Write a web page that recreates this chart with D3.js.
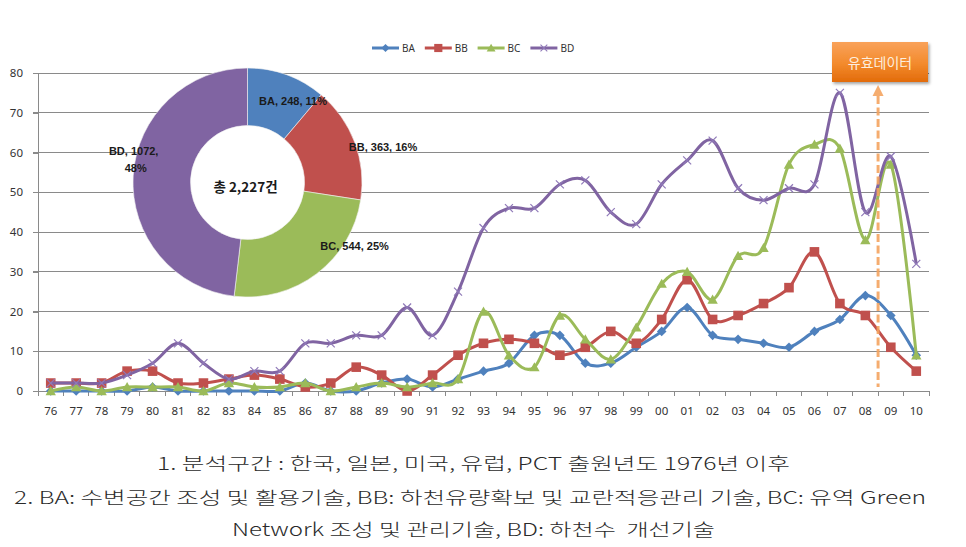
<!DOCTYPE html>
<html><head><meta charset="utf-8">
<script src="https://cdn.jsdelivr.net/npm/d3@7"></script>
<style>body{margin:0;background:#fff}svg{display:block}</style>
</head><body>
<svg id="c" width="966" height="547"></svg>
<script>
// ---------- data ----------
const years = ["76","77","78","79","80","81","82","83","84","85","86","87","88","89","90","91","92","93","94","95","96","97","98","99","00","01","02","03","04","05","06","07","08","09","10"];
const BA = [0,0,0,0,1,0,0,0,0,0,2,0,0,2,3,1,3,5,7,14,14,7,7,11,15,21,14,13,12,11,15,18,24,19,9];
const BB = [2,2,2,5,5,2,2,3,4,3,1,2,6,4,0,4,9,12,13,12,9,11,15,12,18,28,18,19,22,26,35,22,19,11,5];
const BC = [0,1,0,1,1,1,0,2,1,1,2,0,1,2,1,2,3,20,9,6,19,13,8,16,27,30,23,34,36,57,62,61,38,57,9];
const BD = [2,2,2,4,7,12,7,3,5,5,12,12,14,14,21,14,25,41,46,46,52,53,45,42,52,58,63,51,48,51,52,75,45,59,32];
const seriesNames = ["BA","BB","BC","BD"];
const yTicks = [0,10,20,30,40,50,60,70,80];
const pieNames = ["BA","BB","BC","BD"];
const pieValues = [248,363,544,1072];
const piePct = ["11%","16%","25%","48%"];
const pieTotal = "총 2,227건";
const calloutText = "유효데이터";
const calloutYear = "08";
const notes = [
  "1. 분석구간 : 한국, 일본, 미국, 유럽, PCT 출원년도 1976년 이후",
  "2. BA: 수변공간 조성 및 활용기술, BB: 하천유량확보 및 교란적응관리 기술, BC: 유역 Green",
  "Network 조성 및 관리기술, BD: 하천수  개선기술"
];

// ---------- setup ----------
const svg = d3.select("#c");
const colors = {BA:"#4F81BD", BB:"#C0504D", BC:"#9BBB59", BD:"#8064A2"};
const data = {BA, BB, BC, BD};
const L = 38, R = 929, T = 73, B = 391;
const x = d3.scaleBand().domain(years).range([L, R]);
const y = d3.scaleLinear().domain([0, 80]).range([B, T]);
const bw = x.bandwidth();
const cx = d => x(d) + bw / 2;

// defs
const defs = svg.append("defs");
const g1 = defs.append("linearGradient").attr("id","og").attr("x1",0).attr("y1",0).attr("x2",0).attr("y2",1);
g1.append("stop").attr("offset","0%").attr("stop-color","#f9a25a");
g1.append("stop").attr("offset","55%").attr("stop-color","#f38a2c");
g1.append("stop").attr("offset","100%").attr("stop-color","#e26b0a");
const sh = defs.append("filter").attr("id","sh").attr("x","-20%").attr("y","-20%").attr("width","150%").attr("height","160%");
sh.append("feDropShadow").attr("dx",1.5).attr("dy",2).attr("stdDeviation",1.6).attr("flood-color","#000").attr("flood-opacity",0.35);

// gridlines
svg.append("g").selectAll("line").data(yTicks.filter(t => t > 0)).join("line")
  .attr("x1", L - 5).attr("x2", R).attr("y1", d => y(d)).attr("y2", d => y(d))
  .attr("stroke", "#8a8a8a").attr("stroke-width", 1).attr("shape-rendering","crispEdges");

// y axis
const yAxis = svg.append("g").attr("transform", `translate(${L},0)`)
  .call(d3.axisLeft(y).tickValues(yTicks).tickSize(5).tickPadding(10));
yAxis.select(".domain").attr("stroke","#8a8a8a").attr("shape-rendering","crispEdges");
yAxis.selectAll(".tick line").attr("stroke","#8a8a8a").attr("shape-rendering","crispEdges");
yAxis.selectAll("text").attr("font-family","'Noto Sans', sans-serif").attr("font-size","11.5px").attr("fill","#333");

// x axis
const xAxis = svg.append("g").attr("transform", `translate(0,${B})`)
  .call(d3.axisBottom(x).tickSize(0).tickPadding(16));
xAxis.select(".domain").remove();
xAxis.selectAll("text").attr("font-family","'Noto Sans', sans-serif").attr("font-size","11.5px").attr("fill","#333");
svg.append("line").attr("x1",L).attr("x2",R).attr("y1",B).attr("y2",B)
  .attr("stroke","#8a8a8a").attr("shape-rendering","crispEdges");
svg.append("g").selectAll("line").data(years.map(d => x(d)).concat([R])).join("line")
  .attr("x1", d => d).attr("x2", d => d).attr("y1", B).attr("y2", B + 5)
  .attr("stroke","#8a8a8a").attr("shape-rendering","crispEdges");

// markers
function marker(sel, name, col) {
  if (name === "BA") sel.append("path").attr("d","M0,-4.8L4.8,0L0,4.8L-4.8,0Z").attr("fill",col);
  else if (name === "BB") sel.append("rect").attr("x",-4.8).attr("y",-4.8).attr("width",9.6).attr("height",9.6).attr("fill",col);
  else if (name === "BC") sel.append("path").attr("d","M0,-5L5.2,4.2L-5.2,4.2Z").attr("fill",col);
  else sel.append("path").attr("d","M-4,-4L4,4M-4,4L4,-4").attr("stroke","#8f79b8").attr("stroke-width",1.2).attr("fill","none");
}

// lines
const line = d3.line().x((d,i) => cx(years[i])).y(d => y(d)).curve(d3.curveCardinal.tension(0));
seriesNames.forEach(name => {
  const col = colors[name];
  const g = svg.append("g");
  g.append("path").datum(data[name]).attr("d", line)
    .attr("fill","none").attr("stroke",col).attr("stroke-width",3).attr("stroke-linejoin","round");
  g.selectAll("g.m").data(data[name]).join("g").attr("class","m")
    .attr("transform",(d,i) => `translate(${cx(years[i])},${y(d)})`)
    .each(function(){ marker(d3.select(this), name, col); });
});

// legend
const lg = svg.append("g").attr("transform","translate(372,48)");
seriesNames.forEach((name,i) => {
  const g = lg.append("g").attr("transform",`translate(${i*52.8},0)`);
  g.append("line").attr("x1",0).attr("x2",27).attr("y1",0).attr("y2",0).attr("stroke",colors[name]).attr("stroke-width",3);
  const m = g.append("g").attr("transform","translate(13.5,0) scale(0.85)");
  marker(m, name, colors[name]);
  g.append("text").attr("x",30).attr("y",3.8).text(name)
    .attr("font-family","'Noto Sans', sans-serif").attr("font-size","10px").attr("fill","#333");
});

// donut
const pcx = 247.5, pcy = 182.5, rOut = 114.5, rIn = 57;
const pie = d3.pie().sort(null).value(d => d)(pieValues);
const arc = d3.arc().innerRadius(rIn).outerRadius(rOut);
const pg = svg.append("g").attr("transform",`translate(${pcx},${pcy})`);
pg.append("circle").attr("r", rIn).attr("fill","#fff");
pg.selectAll("path").data(pie).join("path").attr("d", arc)
  .attr("fill",(d,i) => colors[pieNames[i]]).attr("stroke","#f2f2f2").attr("stroke-width",0.6);
const labArc = d3.arc().innerRadius(86).outerRadius(86);
const labOff = [[16,3],[55,-1],[55,-1],[-28,-22]];
pie.forEach((d,i) => {
  const [lx, ly] = labArc.centroid(d);
  const t = pg.append("text").attr("text-anchor","middle")
    .attr("font-family","'Liberation Sans', Arial, sans-serif").attr("font-weight","bold")
    .attr("font-size","11px").attr("fill","#1a1a1a");
  if (i === 3) {
    t.append("tspan").attr("x", lx + labOff[i][0]).attr("y", ly + labOff[i][1]).text(`${pieNames[i]}, ${pieValues[i]},`);
    t.append("tspan").attr("x", lx + labOff[i][0] + 2).attr("y", ly + labOff[i][1] + 17).text(piePct[i]);
  } else {
    t.attr("x", lx + labOff[i][0]).attr("y", ly + labOff[i][1]).text(`${pieNames[i]}, ${pieValues[i]}, ${piePct[i]}`);
  }
});
pg.append("text").attr("x",-2).attr("y",9).attr("text-anchor","middle")
  .attr("font-family","'Noto Sans CJK KR', sans-serif").attr("font-weight","bold")
  .attr("font-size","13.5px").attr("fill","#1a1a1a").text(pieTotal);

// callout arrow
const ax = x(calloutYear) + bw;
svg.append("line").attr("x1",ax).attr("x2",ax).attr("y1",96).attr("y2",387)
  .attr("stroke","#f4a460").attr("stroke-width",3).attr("stroke-dasharray","8,3.5").attr("opacity",0.9);
svg.append("path").attr("d",`M${ax},85L${ax+5.5},96L${ax-5.5},96Z`).attr("fill","#f4a460").attr("opacity",0.9);
svg.append("rect").attr("x",832).attr("y",42).attr("width",96).attr("height",40)
  .attr("fill","url(#og)").attr("filter","url(#sh)");
svg.append("text").attr("x",880).attr("y",68).attr("text-anchor","middle")
  .attr("font-family","'Noto Sans CJK KR', sans-serif").attr("font-size","14px").attr("fill","#fdeede").text(calloutText);

// footnotes
const noteLayout = [[157,470,633],[14,504,912],[232,536,483]];
notes.forEach((s,i) => {
  svg.append("text").attr("x",noteLayout[i][0]).attr("y",noteLayout[i][1])
    .attr("textLength",noteLayout[i][2]).attr("lengthAdjust","spacingAndGlyphs")
    .style("white-space","pre")
    .attr("font-family","'Noto Sans CJK KR', sans-serif").attr("font-weight","300")
    .attr("font-size","17.5px").attr("fill","#2a2a2a").text(s);
});
</script>
</body></html>
